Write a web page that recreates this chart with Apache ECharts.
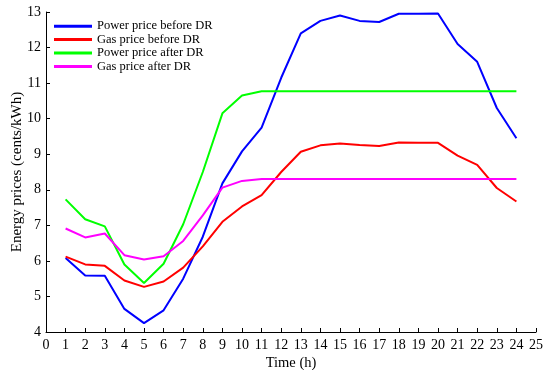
<!DOCTYPE html>
<html><head><meta charset="utf-8">
<script src="https://cdn.jsdelivr.net/npm/echarts@6/dist/echarts.min.js"></script>
<style>html,body{margin:0;padding:0;background:#fff}#c{width:550px;height:370px}</style>
</head><body><div id="c"></div>
<script>
const hours = [1,2,3,4,5,6,7,8,9,10,11,12,13,14,15,16,17,18,19,20,21,22,23,24];
const powerBefore = [6.08,5.59,5.58,4.65,4.25,4.61,5.5,6.68,8.18,9.08,9.75,11.15,12.4,12.75,12.9,12.75,12.72,12.95,12.95,12.96,12.1,11.6,10.3,9.45];
const gasBefore = [6.12,5.9,5.86,5.45,5.27,5.42,5.81,6.41,7.1,7.53,7.85,8.5,9.07,9.25,9.3,9.26,9.23,9.33,9.32,9.32,8.96,8.7,8.05,7.67];
const powerAfter = [7.73,7.17,6.97,5.9,5.38,5.92,7.03,8.5,10.15,10.65,10.77,10.77,10.77,10.77,10.77,10.77,10.77,10.77,10.77,10.77,10.77,10.77,10.77,10.77];
const gasAfter = [6.91,6.66,6.77,6.16,6.04,6.13,6.56,7.28,8.06,8.25,8.3,8.3,8.3,8.3,8.3,8.3,8.3,8.3,8.3,8.3,8.3,8.3,8.3,8.3];
const names = ['Power price before DR','Gas price before DR','Power price after DR','Gas price after DR'];
const colors = ['#0000ff','#ff0000','#00ff00','#ff00ff'];
const data = [powerBefore, gasBefore, powerAfter, gasAfter];
const font = 'Liberation Serif';
const chart = echarts.init(document.getElementById('c'));
chart.setOption({
  animation:false,
  grid:{left:46,right:14,top:12,bottom:38,containLabel:false,outerBoundsMode:'none'},
  legend:{orient:'vertical',left:54,top:19.5,padding:0,itemWidth:38,itemHeight:3,itemGap:0,icon:'rect',
    textStyle:{fontFamily:font,fontSize:12.5,color:'#000',lineHeight:13.4},
    data:names},
  xAxis:{type:'value',min:0,max:25,interval:1,name:'Time (h)',nameLocation:'middle',nameGap:24,nameMoveOverlap:false,
    nameTextStyle:{fontFamily:font,fontSize:14.5,color:'#000'},
    axisLine:{lineStyle:{color:'#000',width:1}},axisTick:{inside:true,length:4,lineStyle:{color:'#000'}},
    axisLabel:{fontFamily:font,fontSize:14,color:'#000',margin:6},splitLine:{show:false}},
  yAxis:{type:'value',min:4,max:13,interval:1,name:'Energy prices (cents/kWh)',nameLocation:'middle',nameGap:21,nameMoveOverlap:false,
    nameTextStyle:{fontFamily:font,fontSize:15,color:'#000'},
    axisLine:{show:true,lineStyle:{color:'#000',width:1}},axisTick:{show:true,inside:true,length:4,lineStyle:{color:'#000'}},
    axisLabel:{fontFamily:font,fontSize:14,color:'#000',margin:5},splitLine:{show:false}},
  series:names.map((n,i)=>({name:n,type:'line',symbol:'none',color:colors[i],
    lineStyle:{width:2,color:colors[i]},data:hours.map((h,j)=>[h,data[i][j]])}))
});
</script></body></html>
